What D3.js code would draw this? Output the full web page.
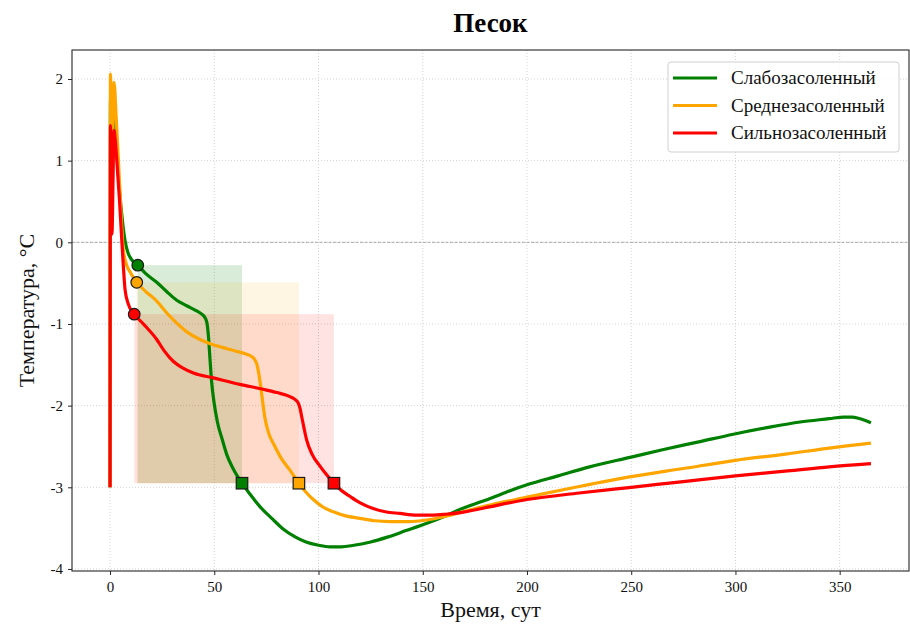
<!DOCTYPE html>
<html>
<head>
<meta charset="utf-8">
<script src="https://cdn.jsdelivr.net/npm/d3@7"></script>
<style>
  html, body { margin: 0; padding: 0; background: #fff; }
  svg text { font-family: "Liberation Serif", "Times New Roman", serif; }
</style>
</head>
<body>
<svg id="chart" width="910" height="627"></svg>
<script>
// ---------------- DATA ----------------
const title = "Песок";
const xLabel = "Время, сут";
const yLabel = "Температура, °C";
const seriesNames = ["Слабозасоленный", "Среднезасоленный", "Сильнозасоленный"];
const seriesColors = ["#008000", "#FFA500", "#FF0000"];

const xTicks = [0, 50, 100, 150, 200, 250, 300, 350];
const yTicks = [2, 1, 0, -1, -2, -3, -4];

const tGreen = [0, 0.2, 0.9, 1.9, 3, 4.5, 6, 7.2, 8.5, 10, 13.3, 17, 22.4, 27, 32, 37, 41.5, 44, 45.5, 46.5, 47.2, 48, 48.7, 50, 51.5, 54, 56, 59, 63.3, 67, 72, 78, 83, 89, 94, 100, 105.5, 111, 117, 125, 133, 142, 152, 160, 168, 180, 190, 200, 215, 230, 250, 265, 283, 299, 315, 331, 345, 352, 356, 359, 362, 365];
const vGreen = [-3, 1.75, 0.6, 1.65, 1.2, 0.65, 0.25, 0.02, -0.12, -0.2, -0.28, -0.38, -0.49, -0.6, -0.71, -0.78, -0.84, -0.88, -0.92, -0.99, -1.15, -1.45, -1.7, -1.98, -2.2, -2.43, -2.6, -2.77, -2.95, -3.08, -3.24, -3.39, -3.51, -3.61, -3.67, -3.71, -3.73, -3.73, -3.71, -3.67, -3.61, -3.53, -3.44, -3.36, -3.27, -3.16, -3.06, -2.97, -2.86, -2.75, -2.63, -2.54, -2.44, -2.35, -2.27, -2.2, -2.16, -2.14, -2.14, -2.155, -2.18, -2.21];

const tOrange = [0, 0.2, 0.9, 1.9, 3, 4.5, 6.4, 8, 10, 12.8, 17, 22.4, 27, 32, 37, 43.1, 49, 54.3, 60, 65.5, 68, 69.5, 70.5, 71.3, 72.2, 73.2, 74.3, 76, 79.1, 82, 86.3, 90.6, 94, 97.5, 102, 107.1, 113, 119.8, 127, 134.2, 143, 151.8, 160, 167.8, 180, 200, 225, 250, 275, 300, 325, 345, 365];
const vOrange = [-3, 2.06, 0.9, 1.96, 1.5, 0.75, -0.1, -0.28, -0.38, -0.49, -0.6, -0.72, -0.86, -0.99, -1.1, -1.19, -1.25, -1.29, -1.33, -1.37, -1.4, -1.44, -1.5, -1.6, -1.75, -1.95, -2.15, -2.33, -2.5, -2.64, -2.79, -2.95, -3.06, -3.15, -3.24, -3.3, -3.35, -3.38, -3.41, -3.42, -3.42, -3.4, -3.36, -3.31, -3.23, -3.12, -2.99, -2.87, -2.77, -2.67, -2.59, -2.52, -2.46];

const tRed = [0, 0.2, 0.9, 1.9, 2.5, 3.2, 4.5, 5.6, 6.4, 7.2, 8.8, 11.6, 16, 22.4, 26, 30.4, 35, 40, 49.6, 62.3, 73.5, 80, 86.3, 88.5, 90.3, 91.2, 91.9, 93, 94.3, 97, 100.7, 104, 107.4, 111, 115, 120, 126.2, 132, 139, 147, 155, 161, 168, 180, 200, 225, 250, 275, 300, 325, 345, 365];
const vRed = [-3, 1.43, 0.1, 1.37, 1.25, 1.02, 0.53, 0.04, -0.3, -0.58, -0.76, -0.88, -1.0, -1.19, -1.33, -1.46, -1.54, -1.6, -1.66, -1.74, -1.8, -1.84, -1.89, -1.92, -1.97, -2.04, -2.13, -2.27, -2.42, -2.6, -2.74, -2.85, -2.95, -3.04, -3.11, -3.19, -3.26, -3.3, -3.32, -3.34, -3.34, -3.33, -3.31, -3.25, -3.15, -3.07, -3.0, -2.93, -2.86, -2.8, -2.75, -2.71];

// start (circle) and end (square) of the freezing interval for each series
const startT = [13.3, 12.8, 11.6];
const startV = [-0.28, -0.49, -0.88];
const endT = [63.3, 90.6, 107.4];
const endV = [-2.95, -2.95, -2.95];

// ---------------- LAYOUT ----------------
const svg = d3.select("#chart");
const m = { left: 72, right: 909, top: 50, bottom: 571 };

const x = d3.scaleLinear().domain([-18.25, 383.25]).range([m.left, m.right]);
const y = d3.scaleLinear().domain([-4.025, 2.355]).range([m.bottom, m.top]);

// grid
const grid = svg.append("g");
grid.selectAll(".gx").data(xTicks).join("line")
  .attr("x1", d => x(d)).attr("x2", d => x(d))
  .attr("y1", m.top).attr("y2", m.bottom)
  .attr("stroke", "#c8c8c8").attr("stroke-width", 0.8)
  .attr("stroke-dasharray", "1,2");
grid.selectAll(".gy").data(yTicks).join("line")
  .attr("x1", m.left).attr("x2", m.right)
  .attr("y1", d => y(d)).attr("y2", d => y(d))
  .attr("stroke", "#c8c8c8").attr("stroke-width", 0.8)
  .attr("stroke-dasharray", "1,2");

// zero line
svg.append("line")
  .attr("x1", m.left).attr("x2", m.right)
  .attr("y1", y(0)).attr("y2", y(0))
  .attr("stroke", "#a0a0a0").attr("stroke-width", 0.9)
  .attr("stroke-dasharray", "3,1.5");

// shaded intervals
const rectAlpha = [0.15, 0.11, 0.11];
for (let i = 0; i < 3; i++) {
  svg.append("rect")
    .attr("x", x(startT[i]))
    .attr("y", y(startV[i]))
    .attr("width", x(endT[i]) - x(startT[i]))
    .attr("height", y(endV[i]) - y(startV[i]))
    .attr("fill", seriesColors[i])
    .attr("fill-opacity", rectAlpha[i]);
}

// lines
const series = [
  { t: tGreen, v: vGreen },
  { t: tOrange, v: vOrange },
  { t: tRed, v: vRed }
];
const line = d3.line()
  .x(d => x(d[0])).y(d => y(d[1]))
  .curve(d3.curveMonotoneX);
series.forEach((s, i) => {
  const pts = s.t.map((t, k) => [t, s.v[k]]);
  svg.append("path")
    .attr("d", line(pts))
    .attr("fill", "none")
    .attr("stroke", seriesColors[i])
    .attr("stroke-width", 3.2)
    .attr("stroke-linejoin", "round")
    .attr("stroke-linecap", "butt");
});

// markers
for (let i = 0; i < 3; i++) {
  svg.append("circle")
    .attr("cx", x(startT[i])).attr("cy", y(startV[i]))
    .attr("r", 5.8)
    .attr("fill", seriesColors[i])
    .attr("stroke", "#1a1a1a").attr("stroke-width", 1.2);
  const s = 11.5;
  svg.append("rect")
    .attr("x", x(endT[i]) - s / 2).attr("y", y(endV[i]) - s / 2)
    .attr("width", s).attr("height", s)
    .attr("fill", seriesColors[i])
    .attr("stroke", "#1a1a1a").attr("stroke-width", 1.2);
}

// spines
svg.append("rect")
  .attr("x", m.left).attr("y", m.top)
  .attr("width", m.right - m.left).attr("height", m.bottom - m.top)
  .attr("fill", "none").attr("stroke", "#262626").attr("stroke-width", 1.1);

// axes ticks
const xAxis = d3.axisBottom(x).tickValues(xTicks).tickSize(4).tickPadding(6).tickFormat(d3.format("d"));
const gx = svg.append("g").attr("transform", `translate(0,${m.bottom})`).call(xAxis);
gx.select(".domain").remove();
gx.selectAll("line").attr("stroke", "#262626").attr("stroke-width", 1);
gx.selectAll("text").attr("font-size", 15).attr("fill", "#111")
  .style("font-family", "'Liberation Serif', serif");

const yAxis = d3.axisLeft(y).tickValues(yTicks).tickSize(4).tickPadding(5)
  .tickFormat(d => (d < 0 ? "-" + Math.abs(d) : String(d)));
const gy = svg.append("g").attr("transform", `translate(${m.left},0)`).call(yAxis);
gy.select(".domain").remove();
gy.selectAll("line").attr("stroke", "#262626").attr("stroke-width", 1);
gy.selectAll("text").attr("font-size", 15).attr("fill", "#111")
  .style("font-family", "'Liberation Serif', serif");

// title and labels
svg.append("text")
  .attr("x", (m.left + m.right) / 2).attr("y", 32)
  .attr("text-anchor", "middle")
  .attr("font-size", 27).attr("font-weight", "bold").attr("fill", "#000")
  .text(title);
svg.append("text")
  .attr("x", (m.left + m.right) / 2).attr("y", 617)
  .attr("text-anchor", "middle")
  .attr("font-size", 22).attr("fill", "#111")
  .text(xLabel);
svg.append("text")
  .attr("transform", `translate(34,${(m.top + m.bottom) / 2}) rotate(-90)`)
  .attr("text-anchor", "middle")
  .attr("font-size", 22).attr("fill", "#111")
  .text(yLabel);

// legend
const lg = svg.append("g");
lg.append("rect")
  .attr("x", 668).attr("y", 62).attr("width", 231).attr("height", 90)
  .attr("rx", 3).attr("ry", 3)
  .attr("fill", "#fff").attr("fill-opacity", 0.85)
  .attr("stroke", "#d0d0d0").attr("stroke-width", 1);
seriesNames.forEach((name, i) => {
  const yy = 78 + i * 27.5;
  lg.append("line")
    .attr("x1", 673).attr("x2", 717).attr("y1", yy).attr("y2", yy)
    .attr("stroke", seriesColors[i]).attr("stroke-width", 3.2);
  lg.append("text")
    .attr("x", 731).attr("y", yy + 6)
    .attr("font-size", 19).attr("fill", "#111")
    .text(name);
});
</script>
</body>
</html>
